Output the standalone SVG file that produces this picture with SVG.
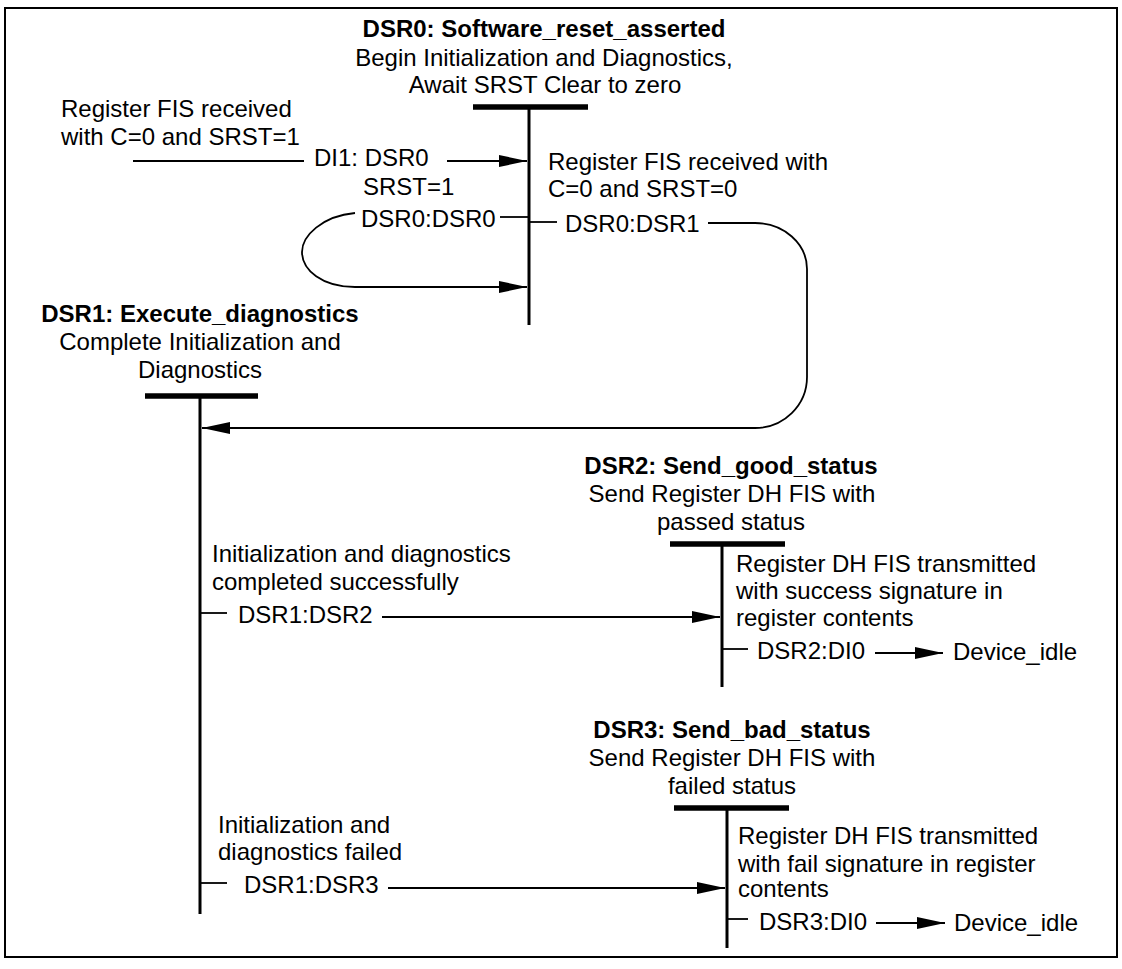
<svg xmlns="http://www.w3.org/2000/svg" width="1122" height="969" viewBox="0 0 1122 969">
<defs>
<marker id="ah" markerUnits="userSpaceOnUse" markerWidth="30" markerHeight="14" refX="28" refY="6" orient="auto">
<path d="M0,0 L28,6 L0,12 z" fill="#000"/>
</marker>
<style>
text{font-family:"Liberation Sans",Arial,sans-serif;font-size:24px;fill:#000}
.t{font-weight:bold;text-anchor:middle}
.c{text-anchor:middle}
.bar{stroke:#000;stroke-width:5.5}
.life{stroke:#000;stroke-width:3}
.ln{stroke:#000;stroke-width:1.8;fill:none}
.arr{marker-end:url(#ah)}
</style>
</defs>
<rect x="5" y="8" width="1112" height="949" fill="#fff" stroke="#000" stroke-width="2"/>

<g id="DSR0">
<text class="t" x="544" y="37">DSR0: Software_reset_asserted</text>
<text class="c" x="544" y="66">Begin Initialization and Diagnostics,</text>
<text class="c" x="545" y="93">Await SRST Clear to zero</text>
<line class="bar" x1="473" y1="107" x2="588" y2="107"/>
<line class="life" x1="529" y1="105" x2="529" y2="325"/>
</g>

<g id="DSR1">
<text class="t" x="200" y="322">DSR1: Execute_diagnostics</text>
<text class="c" x="200" y="350">Complete Initialization and</text>
<text class="c" x="200" y="378">Diagnostics</text>
<line class="bar" x1="145" y1="396" x2="258" y2="396"/>
<line class="life" x1="200" y1="394" x2="200" y2="914"/>
</g>

<g id="DSR2">
<text class="t" x="731" y="474">DSR2: Send_good_status</text>
<text class="c" x="732" y="502">Send Register DH FIS with</text>
<text class="c" x="731" y="530">passed status</text>
<line class="bar" x1="670" y1="544" x2="785" y2="544"/>
<line class="life" x1="722" y1="542" x2="722" y2="687"/>
</g>

<g id="DSR3">
<text class="t" x="732" y="738">DSR3: Send_bad_status</text>
<text class="c" x="732" y="766">Send Register DH FIS with</text>
<text class="c" x="732" y="794">failed status</text>
<line class="bar" x1="674" y1="808" x2="789" y2="808"/>
<line class="life" x1="727" y1="806" x2="727" y2="948"/>
</g>

<g id="connectors">
<text x="61" y="117">Register FIS received</text>
<text x="61" y="145">with C=0 and SRST=1</text>
<line class="ln" x1="133" y1="161" x2="304" y2="161"/>
<text x="314" y="166">DI1: DSR0</text>
<line class="ln arr" x1="447" y1="161" x2="527" y2="161"/>

<text x="363" y="195">SRST=1</text>
<text x="361" y="227">DSR0:DSR0</text>
<line class="ln" x1="500" y1="217" x2="529" y2="217"/>
<path class="ln arr" d="M355,213 C322,216 302,236 302,252 C302,270 322,287 355,287 L527,287"/>

<text x="548" y="170">Register FIS received with</text>
<text x="548" y="197">C=0 and SRST=0</text>
<line class="ln" x1="529" y1="222" x2="557" y2="222"/>
<text x="565" y="232">DSR0:DSR1</text>
<path class="ln arr" d="M708,223 H755 A52,46 0 0 1 807,269 V377 A52,51 0 0 1 755,428 H202"/>

<text x="212" y="562">Initialization and diagnostics</text>
<text x="212" y="590">completed successfully</text>
<line class="ln" x1="201" y1="613" x2="227" y2="613"/>
<text x="238" y="623">DSR1:DSR2</text>
<line class="ln arr" x1="382" y1="617" x2="720" y2="617"/>

<text x="736" y="572">Register DH FIS transmitted</text>
<text x="736" y="599">with success signature in</text>
<text x="736" y="626">register contents</text>
<line class="ln" x1="723" y1="649" x2="748" y2="649"/>
<text x="757" y="659">DSR2:DI0</text>
<line class="ln arr" x1="875" y1="653" x2="943" y2="653"/>
<text x="953" y="660">Device_idle</text>

<text x="218" y="833">Initialization and</text>
<text x="218" y="860">diagnostics failed</text>
<line class="ln" x1="201" y1="883" x2="227" y2="883"/>
<text x="244" y="893">DSR1:DSR3</text>
<line class="ln arr" x1="388" y1="888" x2="725" y2="888"/>

<text x="738" y="844">Register DH FIS transmitted</text>
<text x="738" y="872">with fail signature in register</text>
<text x="738" y="897">contents</text>
<line class="ln" x1="728" y1="919" x2="748" y2="919"/>
<text x="759" y="930">DSR3:DI0</text>
<line class="ln arr" x1="876" y1="923" x2="945" y2="923"/>
<text x="954" y="931">Device_idle</text>
</g>
</svg>
